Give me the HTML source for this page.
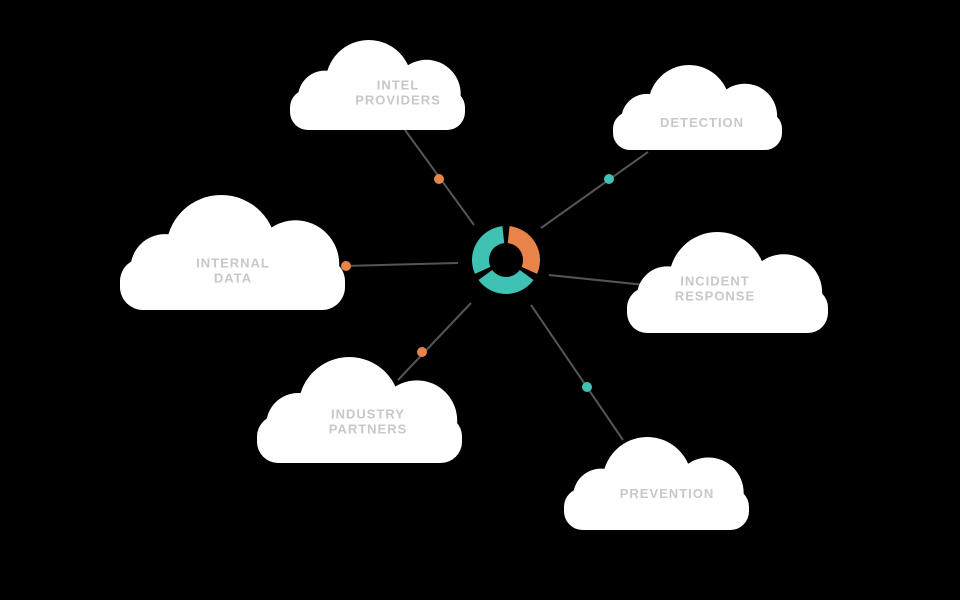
<!DOCTYPE html>
<html><head><meta charset="utf-8"><style>
html,body{margin:0;padding:0;background:#000;width:960px;height:600px;overflow:hidden}
svg text{font-family:"Liberation Sans",sans-serif;font-weight:bold;font-size:13px;fill:#c8c8c8;letter-spacing:1px;text-anchor:middle}
</style></head><body>
<svg id="s" width="960" height="600" viewBox="0 0 960 600" xmlns="http://www.w3.org/2000/svg">
<g stroke="#555" stroke-width="2">
<line x1="405" y1="130" x2="474" y2="225"/>
<line x1="648" y1="152" x2="541" y2="228"/>
<line x1="345" y1="266" x2="458" y2="263"/>
<line x1="549" y1="275" x2="645" y2="285"/>
<line x1="398" y1="380" x2="471" y2="303"/>
<line x1="531" y1="305" x2="623" y2="440"/>
</g>
<g id="clouds" fill="#fff"></g>
<g id="labels"></g>
<circle cx="439" cy="179" r="5" fill="#e8834a"/>
<circle cx="609" cy="179" r="5" fill="#3fc1b4"/>
<circle cx="346" cy="266" r="5" fill="#e8834a"/>
<circle cx="422" cy="352" r="5" fill="#e8834a"/>
<circle cx="587" cy="387" r="5" fill="#3fc1b4"/>
<g id="ring"></g>
</svg>
<script>
var NS="http://www.w3.org/2000/svg";
function el(p,t,a){var e=document.createElementNS(NS,t);for(var k in a)e.setAttribute(k,a[k]);p.appendChild(e);return e;}
var C=document.getElementById("clouds"),L=document.getElementById("labels");
var clouds=[
[290,40,465,130,["INTEL","PROVIDERS"],398,92],
[613,65,782,150,["DETECTION"],702,122],
[120,195,345,310,["INTERNAL","DATA"],233,270],
[627,232,828,333,["INCIDENT","RESPONSE"],715,288],
[257,357,462,463,["INDUSTRY","PARTNERS"],368,421],
[564,437,749,530,["PREVENTION"],667,493]];
clouds.forEach(function(c){
 var x=c[0],y=c[1],W=c[2]-c[0],H=c[3]-c[1];
 el(C,"rect",{x:x,y:y+0.55*H,width:W,height:0.45*H,rx:0.2*H});
 el(C,"circle",{cx:x+0.45*W,cy:y+0.48*H,r:0.48*H});
 el(C,"circle",{cx:x+0.2*W,cy:y+0.64*H,r:0.3*H});
 el(C,"circle",{cx:x+0.78*W,cy:y+0.6*H,r:0.38*H});
 var n=c[4].length;
 c[4].forEach(function(t,i){var tt=el(L,"text",{x:c[5],y:c[6]+(i-(n-1)/2)*15+5});tt.textContent=t;});
});
var R=document.getElementById("ring"),cx=506,cy=260,ro=34,ri=17;
function pt(a,r){a=(a-90)*Math.PI/180;return [cx+r*Math.cos(a),cy+r*Math.sin(a)];}
[[6,114,"#e8834a"],[126,234,"#3fc1b4"],[246,354,"#3fc1b4"]].forEach(function(s){
 var a=pt(s[0],ro),b=pt(s[1],ro),c=pt(s[1],ri),d=pt(s[0],ri);
 el(R,"path",{fill:s[2],d:"M"+a+" A"+ro+" "+ro+" 0 0 1 "+b+" L"+c+" A"+ri+" "+ri+" 0 0 0 "+d+"Z"});
});
</script>
</body></html>
